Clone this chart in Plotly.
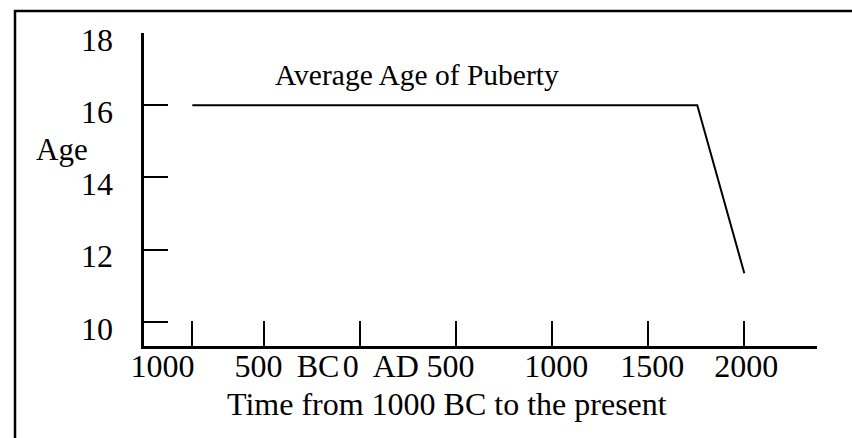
import plotly.graph_objects as go

# Data
years = [-875, 1755, 2000]
ages = [16, 16, 11.35]

x_tick_years = [-875, -500, 0, 500, 1000, 1500, 2000]
x_label_years = [-1030, -530, -220, -50, 185, 470, 1020, 1520, 2010]
x_label_text = ["1000", "500", "BC", "0", "AD", "500", "1000", "1500", "2000"]
y_ticks = [10, 12, 14, 16, 18]
y_tick_text = ["10", "12", "14", "16", "18"]

title_text = "Average Age of Puberty"
x_title = "Time from 1000 BC to the present"
y_title = "Age"

W, H = 852, 438
L, R, T, B = 144, 35, 33, 92
pw, ph = W - L - R, H - T - B

def px_x(p):
    return (p - L) / pw

def px_y(p):
    return (H - B - p) / ph

xr = [-1126.6, 2378.6]
yr = [9.334, 18.0]
font = "Liberation Serif, Times New Roman, serif"

fig = go.Figure()
fig.add_trace(go.Scatter(x=years, y=ages, mode="lines",
                         line=dict(color="black", width=2), hoverinfo="skip",
                         showlegend=False))
fig.add_trace(go.Scatter(x=years, y=ages, mode="lines", xaxis="x2", yaxis="y2",
                         line=dict(color="rgba(0,0,0,0)", width=0), hoverinfo="skip",
                         showlegend=False))

label_offset = 0.18
fig.update_layout(
    width=W, height=H,
    margin=dict(l=L, r=R, t=T, b=B, autoexpand=False),
    paper_bgcolor="white", plot_bgcolor="white",
    font=dict(family=font, color="black", size=32),
    xaxis=dict(range=xr, showgrid=False, zeroline=False, showline=True,
               linecolor="black", linewidth=2.5, ticks="inside", ticklen=25,
               tickwidth=2, tickcolor="black", tickvals=x_tick_years,
               showticklabels=False, automargin=False),
    yaxis=dict(range=yr, showgrid=False, zeroline=False, showline=True,
               linecolor="black", linewidth=2.5, ticks="inside", ticklen=24,
               tickwidth=2, tickcolor="black", tickvals=y_ticks,
               showticklabels=False, automargin=False),
    xaxis2=dict(range=xr, overlaying="x", anchor="y2", side="bottom",
                showgrid=False, zeroline=False, showline=False, ticks="",
                tickvals=x_label_years, ticktext=x_label_text, tickangle=0,
                tickfont=dict(size=32, family=font), ticklabelstandoff=-2,
                automargin=False),
    yaxis2=dict(range=yr, overlaying="y", anchor="x2", side="left",
                showgrid=False, zeroline=False, showline=False, ticks="",
                tickvals=[v - label_offset for v in y_ticks], ticktext=y_tick_text,
                tickfont=dict(size=32, family=font), ticklabelstandoff=30,
                automargin=False),
    showlegend=False,
)

fig.add_annotation(text=title_text, xref="paper", yref="paper",
                   x=px_x(273), y=px_y(75), xanchor="left", yanchor="middle",
                   showarrow=False, font=dict(size=29.5, family=font))
fig.add_annotation(text=y_title, xref="paper", yref="paper",
                   x=px_x(34), y=px_y(149), xanchor="left", yanchor="middle",
                   showarrow=False, font=dict(size=31, family=font))
fig.add_annotation(text=x_title, xref="paper", yref="paper",
                   x=px_x(447), y=px_y(404), xanchor="center", yanchor="middle",
                   showarrow=False, font=dict(size=32, family=font))

fig.add_shape(type="rect", xref="paper", yref="paper",
              x0=px_x(15), x1=px_x(900), y0=px_y(500), y1=px_y(11),
              line=dict(color="black", width=2.5), fillcolor="rgba(0,0,0,0)",
              layer="above")

fig.write_html("out.html", post_script="document.body.style.margin='0';",
               config={"displayModeBar": False})
